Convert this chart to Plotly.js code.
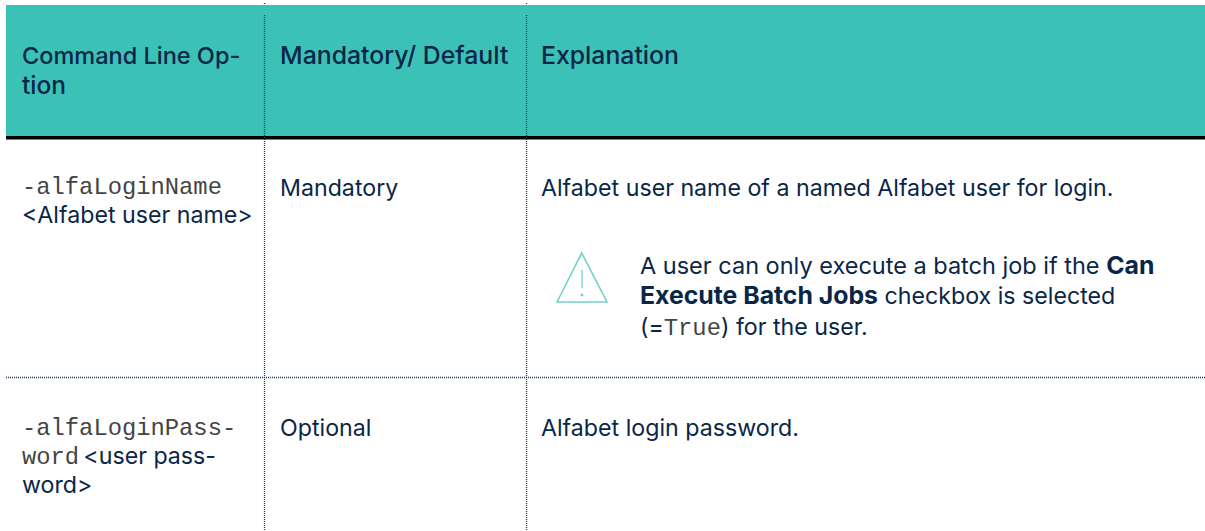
<!DOCTYPE html>
<html><head><meta charset="utf-8">
<script src="https://cdn.plot.ly/plotly-3.0.1.min.js"></script>
<style>html,body{margin:0;padding:0;background:#fff}#c{width:1205px;height:531px}</style>
</head><body><div id="c"></div>
<script>
const MONO = s => '<span style="font-family:\'Liberation Mono\';font-size:23.8px;fill:#444444">' + s + '</span>';
const STRONG = s => '<span style="font-size:24.8px;font-weight:700">' + s + '</span>';
const headerLines = ['Command Line Op-', 'tion', 'Mandatory/ Default', 'Explanation'];
const row1Lines = [MONO('-alfaLoginName'), '&lt;Alfabet user name&gt;', 'Mandatory', 'Alfabet user name of a named Alfabet user for login.'];
const noteLines = ['A user can only execute a batch job if the ' + STRONG('Can'), STRONG('Execute Batch Jobs') + ' checkbox is selected', '(=' + MONO('True') + ') for the user.'];
const row2Lines = [MONO('-alfaLoginPass-'), MONO('word') + '\u2009&lt;user pass-', 'word&gt;', 'Optional', 'Alfabet login password.'];

const headerX = [22, 22, 280, 541], headerY = [55, 85, 55, 55], headerSize = [23.5, 24.5, 24.8, 24.8];
const row1X = [22, 22, 280, 541], row1Y = [187, 215, 188, 188];
const noteX = [640, 640, 640], noteY = [265, 295, 327], noteSize = [23.5, 23.2, 23.2];
const row2X = [22, 22, 22, 280, 541], row2Y = [428, 456, 485, 428, 428];

const INK = '#0a2647', TEAL = '#3cc1b7', DOT = '#1c3a5e', ICON = '#6fd3c9';
const FONT = 'Inter, Roboto, sans-serif';
const SIZE = 23.2;

function notes(lines, xs, ys, weight, sizes) {
  return lines.map((t, i) => ({
    text: t, x: xs[i], y: ys[i], xref: 'x', yref: 'y', xanchor: 'left', yanchor: 'middle',
    showarrow: false, align: 'left', xshift: -2,
    font: {family: FONT, size: sizes ? sizes[i] : SIZE, color: INK, weight: weight || 400}
  }));
}
const dotted = (x0, y0, x1, y1, w) => ({type: 'line', x0, y0, x1, y1, xref: 'x', yref: 'y', layer: 'above',
  line: {color: DOT, width: w, dash: '1px,1px'}});

const shapes = [
  {type: 'rect', x0: 6, x1: 1205, y0: 5, y1: 136, xref: 'x', yref: 'y', fillcolor: TEAL, line: {width: 0}, layer: 'below'},
  {type: 'rect', x0: 6, x1: 1205, y0: 136, y1: 139.5, xref: 'x', yref: 'y', fillcolor: '#000', line: {width: 0}, layer: 'below'},
  dotted(264.5, 15, 264.5, 531, 1.3), dotted(526.5, 15, 526.5, 531, 1.3),
  dotted(264.5, 3, 264.5, 5, 1.3), dotted(526.5, 3, 526.5, 5, 1.3),
  dotted(6, 377.5, 1205, 377.5, 1.5),
  {type: 'path', path: 'M557,302 L581.7,253 L607,302 Z', xref: 'x', yref: 'y', line: {color: ICON, width: 1.6}},
  {type: 'line', x0: 582, x1: 582, y0: 270, y1: 288, xref: 'x', yref: 'y', line: {color: ICON, width: 1.3}},
  {type: 'circle', x0: 580.5, x1: 583.5, y0: 293.5, y1: 296.5, xref: 'x', yref: 'y', fillcolor: ICON, line: {width: 0}}
];

const hidden = {visible: false, showgrid: false, zeroline: false, fixedrange: true};
Plotly.newPlot('c', [], {
  width: 1205, height: 531,
  margin: {l: 0, r: 0, t: 0, b: 0},
  paper_bgcolor: '#fff', plot_bgcolor: '#fff',
  xaxis: Object.assign({range: [0, 1205]}, hidden),
  yaxis: Object.assign({range: [531, 0]}, hidden),
  shapes,
  annotations: [].concat(notes(headerLines, headerX, headerY, 500, headerSize), notes(row1Lines, row1X, row1Y),
    notes(noteLines, noteX, noteY, 400, noteSize), notes(row2Lines, row2X, row2Y))
}, {displayModeBar: false, staticPlot: true});
</script></body></html>
